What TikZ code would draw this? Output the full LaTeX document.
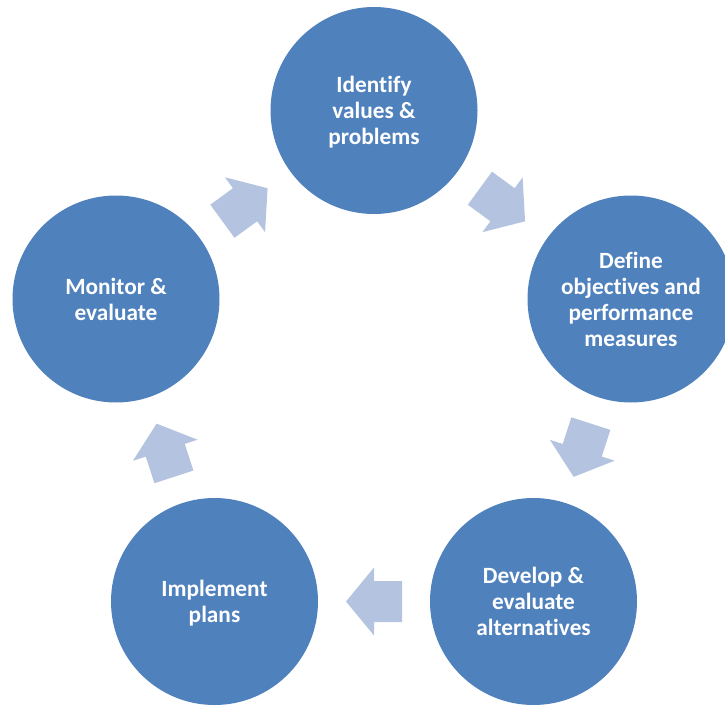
\documentclass[tikz,border=0pt]{standalone}
\usepackage{fontspec}
\setmainfont{Carlito}[Ligatures=NoCommon]
\usetikzlibrary{calc}
\definecolor{circblue}{HTML}{4F81BD}
\definecolor{arrowblue}{RGB}{180,196,224}
\newcommand{\cycarrow}[3]{%
  \coordinate (#3m) at ($(#1)!0.5!(#2)$);
  \coordinate (#3t) at ($(#3m)!-28pt!(#2)$);
  \fill[blockarrow] ($(#3m)!28pt!(#2)$)
    -- ($(#3m)!34pt!90:(#2)$) -- ($(#3m)!20.5pt!90:(#2)$)
    -- ($(#3t)!20.5pt!90:(#2)$) -- ($(#3t)!20.5pt!-90:(#2)$)
    -- ($(#3m)!20.5pt!-90:(#2)$) -- ($(#3m)!34pt!-90:(#2)$) -- cycle;
}
\begin{document}
\begin{tikzpicture}[x=1pt,y=-1pt,
  stage/.style={circle, fill=circblue, minimum size=207pt, inner sep=0pt,
    text=white, font=\fontsize{23.3}{26}\selectfont\bfseries, align=center,
    text depth=0pt},
  blockarrow/.style={fill=arrowblue, draw=none}]
\useasboundingbox (0,0) rectangle (725,706);
\node[stage] (n1) at (374,110.5) {Identify\\values \&\\problems};
\node[stage] (n2) at (631,299) {Define\\objectives and\\performance\\measures};
\node[stage] (n3) at (533.5,601.5) {Develop \&\\evaluate\\alternatives};
\node[stage] (n4) at (214.5,601.5) {Implement\\plans};
\node[stage] (n5) at (116,299) {Monitor \&\\evaluate};
\cycarrow{n1.center}{n2.center}{a}
\cycarrow{n2.center}{n3.center}{b}
\cycarrow{n3.center}{n4.center}{c}
\cycarrow{n4.center}{n5.center}{d}
\cycarrow{n5.center}{n1.center}{e}
\end{tikzpicture}
\end{document}
